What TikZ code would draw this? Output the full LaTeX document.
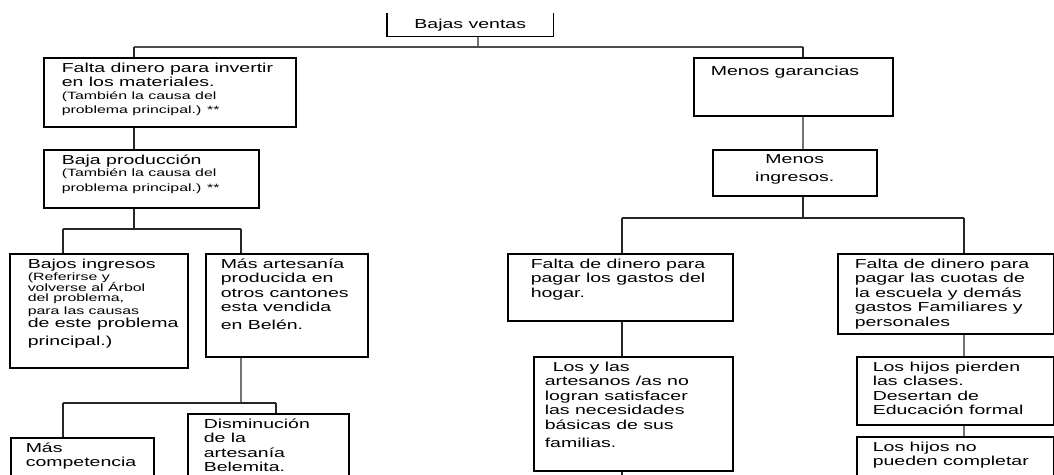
\documentclass[tikz,border=0pt]{standalone}
\usepackage{fontspec}
\setmainfont[FakeStretch=1.5]{Liberation Sans}
\usepackage{tikz}
\newcommand{\mainsize}{\fontsize{13}{14.5}\selectfont}
\newcommand{\sm}{\fontsize{10.6}{12.5}\selectfont}
\newcommand{\boxtxt}[4][16pt]{\parbox[t][#3][t]{#2}{\raggedright\leftskip=#1 #4}}
\tikzstyle{cause} = [rectangle, draw=black, line width=1.5pt, anchor=north west, inner xsep=0pt, inner ysep=5pt, font=\mainsize]
\tikzstyle{link} = [line width=1.5pt, black!85]
\tikzstyle{thicklink} = [line width=2.8pt, black!55]
\tikzstyle{bus} = [line width=1.3pt, black!70]

\begin{document}
\begin{tikzpicture}[x=1pt, y=-1pt]
   \useasboundingbox (0,0) rectangle (1054,474);
   \clip (0,0) rectangle (1054,474);

   \node (bajas) [cause, draw=none] at (387,13) {\boxtxt{165pt}{12pt}{\centering Bajas ventas}};
   \draw [line width=1.5pt] (bajas.north west) |- (bajas.south east) -- (bajas.north east);

   \node (falta) [cause] at (43,57) {\boxtxt[18pt]{252pt}{59pt}{Falta dinero para invertir\\ en los materiales.\\ {\sm (También la causa del\\ problema principal.) **}}};
   \node (baja) [cause] at (43,149) {\boxtxt[18pt]{215pt}{48pt}{Baja producción\\ {\sm (También la causa del\\ problema principal.) **}}};
   \node (bajos) [cause] at (9,253) {\boxtxt[18pt]{178pt}{104pt}{Bajos ingresos\\ {\sm (Referirse y\\[-2pt] volverse al Árbol\\[-2pt] del problema,\\[-2pt] para las causas}\\[-1pt] de este problema\\[3pt] principal.)}};
   \node (mas) [cause] at (205,253) {\boxtxt[15pt]{162pt}{93pt}{Más artesanía\\ producida en\\ otros cantones\\ esta vendida\\[3pt] en Belén.}};
   \node (comp) [cause] at (10,437) {\boxtxt[15pt]{143pt}{70pt}{Más\\ competencia}};
   \node (dism) [cause] at (187,413) {\boxtxt{161pt}{90pt}{Disminución\\ de la\\ artesanía\\ Belemita.}};

   \node (menos) [cause] at (693,57) {\boxtxt[17pt]{199pt}{48pt}{\rule{0pt}{13pt}Menos garancias}};
   \node (menosi) [cause] at (712,149) {\boxtxt{164pt}{36pt}{\centering Menos\\[3pt] ingresos.}};
   \node (gastos) [cause] at (507,253) {\boxtxt[23pt]{225pt}{57pt}{Falta de dinero para\\ pagar los gastos del\\ hogar.}};
   \node (losy) [cause] at (533,356) {\boxtxt[11pt]{199pt}{104pt}{\hspace*{8pt}Los y las\\ artesanos /as no\\ logran satisfacer\\ las necesidades\\ básicas de sus\\[4pt] familias.}};
   \node (cuotas) [cause] at (837,253) {\boxtxt[17pt]{216pt}{70pt}{Falta de dinero para\\ pagar las cuotas de\\ la escuela y demás\\ gastos Familiares y\\ personales}};
   \node (hijos1) [cause] at (856,356) {\boxtxt{197pt}{58pt}{Los hijos pierden\\ las clases.\\ Desertan de\\ Educación formal}};
   \node (hijos2) [cause] at (856,436) {\boxtxt{197pt}{70pt}{Los hijos no\\ pueden completar}};

   \coordinate (top) at (478,47);
   \coordinate (busl) at (134,47);
   \coordinate (busr) at (803,47);
   \coordinate (b2l) at (63,229);
   \coordinate (b2r) at (241,229);
   \coordinate (b3l) at (63,403);
   \coordinate (b3m) at (241,403);
   \coordinate (b3r) at (276,403);
   \coordinate (b4l) at (622,218);
   \coordinate (b4r) at (964,218);
   \coordinate (below) at (622,490);

   \draw [thicklink] (top |- bajas.south) -- (top);
   \draw [bus] (busl) -- (busr);
   \draw [link] (busl) -- (busl |- falta.north);
   \draw [link] (busr) -- (busr |- menos.north);
   \draw [link] (busl |- falta.south) -- (busl |- baja.north);
   \draw [thicklink] (busr |- menos.south) -- (busr |- menosi.north);

   \draw [link] (busl |- baja.south) -- (busl |- b2l);
   \draw [link] (b2l) -- (b2r);
   \draw [link] (b2l) -- (b2l |- bajos.north);
   \draw [link] (b2r) -- (b2r |- mas.north);
   \draw [thicklink] (b2r |- mas.south) -- (b3m);
   \draw [link] (b3l) -- (b3r);
   \draw [link] (b3l) -- (b3l |- comp.north);
   \draw [link] (b3r) -- (b3r |- dism.north);

   \draw [link] (busr |- menosi.south) -- (busr |- b4l);
   \draw [link] (b4l) -- (b4r);
   \draw [link] (b4l) -- (b4l |- gastos.north);
   \draw [link] (b4r) -- (b4r |- cuotas.north);
   \draw [link] (b4l |- gastos.south) -- (b4l |- losy.north);
   \draw [link] (b4l |- losy.south) -- (below);
   \draw [thicklink] (b4r |- cuotas.south) -- (b4r |- hijos1.north);
   \draw [thicklink] (b4r |- hijos1.south) -- (b4r |- hijos2.north);
\end{tikzpicture}
\end{document}
